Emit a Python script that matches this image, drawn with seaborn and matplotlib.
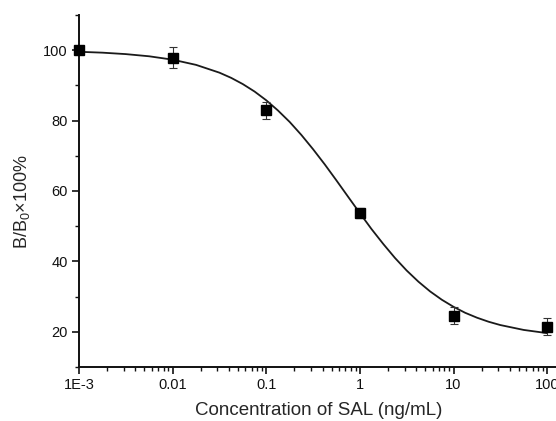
import matplotlib
matplotlib.use("Agg")
import matplotlib.pyplot as plt
import seaborn as sns
import pandas as pd
from matplotlib.ticker import LogLocator, FixedLocator, NullFormatter, MultipleLocator

# measured points
conc = [0.001, 0.01, 0.1, 1, 10, 100]
bb0 = [100.0, 97.9, 82.9, 53.8, 24.6, 21.5]
err = [0.0, 3.0, 2.5, 1.5, 2.5, 2.5]

# fitted curve
curve_x = [0.001, 0.00178, 0.00316, 0.00562, 0.01, 0.0178, 0.0316, 0.0422,
           0.0562, 0.0750, 0.1, 0.133, 0.178, 0.237, 0.316, 0.422, 0.562,
           0.750, 1, 1.33, 1.78, 2.37, 3.16, 4.22, 5.62, 7.50, 10, 13.3,
           17.8, 23.7, 31.6, 56.2, 100]
curve_y = [99.55, 99.30, 98.89, 98.27, 97.31, 95.83, 93.62, 92.14,
           90.37, 88.26, 85.77, 82.90, 79.61, 75.93, 71.88, 67.54, 63.0,
           58.33, 53.70, 49.20, 44.93, 40.98, 37.41, 34.24, 31.48, 29.11,
           27.10, 25.41, 24.01, 22.86, 21.92, 20.53, 19.62]

xticks = [0.001, 0.01, 0.1, 1, 10, 100]
xticklabels = ["1E-3", "0.01", "0.1", "1", "10", "100"]
yticks = [20, 40, 60, 80, 100]

sns.set_style("ticks")
plt.rcParams['font.family'] = ['Liberation Sans', 'DejaVu Sans']
plt.rcParams['mathtext.fontset'] = 'custom'
plt.rcParams['mathtext.rm'] = 'Liberation Sans'
plt.rcParams['mathtext.it'] = 'Liberation Sans:italic'

fig = plt.figure(figsize=(5.56, 4.21), dpi=100)
ax_w_px = 556 - 79 + 0.5
ax = fig.add_axes([79/556, 54/421, ax_w_px/556, (367-15)/421])

df_curve = pd.DataFrame({"x": curve_x, "y": curve_y})
sns.lineplot(data=df_curve, x="x", y="y", ax=ax, color="#1a1a1a", lw=1.3,
             estimator=None, sort=False, zorder=2)
ax.errorbar(conc, bb0, yerr=err, fmt="s", color="black", ms=6.5,
            ecolor="#333333", elinewidth=0.8, capsize=3, capthick=0.8, zorder=3,
            clip_on=False)

ax.set_xscale("log")
ax.set_xlim(0.001, 10**2.1)
ax.set_ylim(10, 110)
ax.xaxis.set_major_locator(FixedLocator(xticks))
ax.set_xticks(xticks)
ax.set_xticklabels(xticklabels)
ax.xaxis.set_minor_locator(LogLocator(base=10, subs=range(2, 10), numticks=20))
ax.xaxis.set_minor_formatter(NullFormatter())
ax.set_yticks(yticks)
ax.yaxis.set_minor_locator(MultipleLocator(10))

sns.despine(ax=ax)
for s in ["left", "bottom"]:
    ax.spines[s].set_linewidth(1.4)
    ax.spines[s].set_color("#111111")
ax.tick_params(which="major", direction="out", length=5, width=1.2, labelsize=10.5,
               colors="#111111", pad=3)
ax.tick_params(which="minor", direction="out", length=3, width=1.0, colors="#111111")

ax.set_xlabel("Concentration of SAL (ng/mL)", fontsize=13.5)
ax.set_ylabel("B/B$_0$×100%", fontsize=13)
ax.xaxis.set_label_coords((319-79)/ax_w_px, -(402-367)/352)
ax.yaxis.set_label_coords(-(79-32)/ax_w_px, (367-202)/352)

fig.savefig("out.png", dpi=100)
